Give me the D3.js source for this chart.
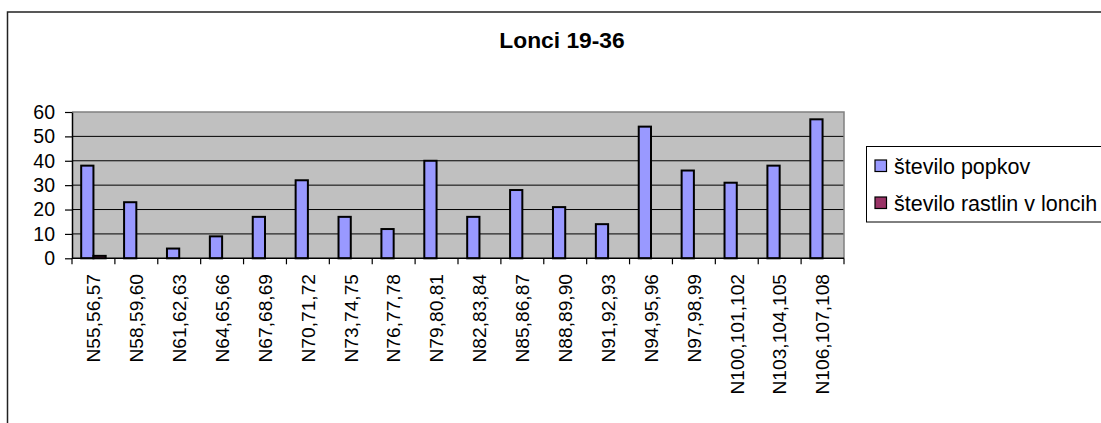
<!DOCTYPE html>
<html>
<head>
<meta charset="utf-8">
<script src="https://cdn.jsdelivr.net/npm/d3@7"></script>
<style>
  html, body { margin: 0; padding: 0; background: #fff; overflow: hidden; }
  svg { display: block; font-family: "Liberation Sans", Arial, sans-serif; }
</style>
</head>
<body>
<svg id="chart" width="1101" height="423"></svg>
<script>
// Pots 19-36: bud counts and plant counts per group of three plants
const categories = [
  "N55,56,57", "N58,59,60", "N61,62,63", "N64,65,66", "N67,68,69", "N70,71,72",
  "N73,74,75", "N76,77,78", "N79,80,81", "N82,83,84", "N85,86,87", "N88,89,90",
  "N91,92,93", "N94,95,96", "N97,98,99", "N100,101,102", "N103,104,105", "N106,107,108"
];
const seriesNames = ["število popkov", "število rastlin v loncih"];
const budCounts = [38, 23, 4, 9, 17, 32, 17, 12, 40, 17, 28, 21, 14, 54, 36, 31, 38, 57];
const plantCounts = [1, null, null, null, null, null, null, null, null, null, null, null, null, null, null, null, null, null];
const yTicks = [0, 10, 20, 30, 40, 50, 60];
const seriesColors = ["#9999FF", "#993366"];
const title = "Lonci 19-36";

const svg = d3.select("#chart");
const plot = { left: 72, right: 844, top: 112, bottom: 258.3 };

// outer chart frame
svg.append("rect")
  .attr("x", 7.5).attr("y", 12).attr("width", 1120).attr("height", 430)
  .attr("fill", "#fff").attr("stroke", "#222").attr("stroke-width", 1.5);

// title
svg.append("text")
  .attr("x", 562).attr("y", 47.5)
  .attr("text-anchor", "middle")
  .attr("font-weight", "bold")
  .attr("font-size", 22.8)
  .attr("fill", "#000")
  .text(title);

// plot background
svg.append("rect")
  .attr("x", plot.left).attr("y", plot.top)
  .attr("width", plot.right - plot.left).attr("height", plot.bottom - plot.top)
  .attr("fill", "#C0C0C0");

const x0 = d3.scaleBand().domain(categories).range([plot.left, plot.right]).padding(0);
const gap = x0.bandwidth() * 1.5 / 3.5;
const x1 = d3.scaleBand().domain(seriesNames).range([gap / 2, x0.bandwidth() - gap / 2]).padding(0);
const y = d3.scaleLinear().domain([0, 60]).range([plot.bottom, plot.top]);

// horizontal gridlines
svg.append("g")
  .selectAll("line")
  .data(yTicks.filter(t => t > 0 && t < 60))
  .join("line")
  .attr("x1", plot.left).attr("x2", plot.right)
  .attr("y1", d => y(d)).attr("y2", d => y(d))
  .attr("stroke", "#000").attr("stroke-width", 1);

// plot border (top/right in gray)
svg.append("path")
  .attr("d", `M${plot.left},${plot.top}H${plot.right}V${plot.bottom}`)
  .attr("fill", "none").attr("stroke", "#808080").attr("stroke-width", 1.5);

// bars
const seriesData = [budCounts, plantCounts];
const groups = svg.append("g");
seriesData.forEach((vals, si) => {
  groups.append("g")
    .selectAll("rect")
    .data(vals.map((v, i) => ({ cat: categories[i], v })).filter(d => d.v != null))
    .join("rect")
    .attr("x", d => x0(d.cat) + x1(seriesNames[si]))
    .attr("y", d => y(d.v))
    .attr("width", x1.bandwidth())
    .attr("height", d => y(0) - y(d.v))
    .attr("fill", seriesColors[si])
    .attr("stroke", "#000")
    .attr("stroke-width", 2);
});

// y axis
const yAxis = svg.append("g")
  .attr("transform", `translate(${plot.left},0)`)
  .call(d3.axisLeft(y).tickValues(yTicks).tickSize(7).tickPadding(10).tickSizeOuter(0));
yAxis.select(".domain").attr("stroke", "#000").attr("stroke-width", 1.5);
yAxis.selectAll(".tick line").attr("stroke", "#000").attr("stroke-width", 1.2);
yAxis.selectAll(".tick text")
  .attr("font-size", 19.5).attr("fill", "#000")
  .attr("font-family", "Liberation Sans, Arial, sans-serif");

// x axis: ticks at category boundaries, rotated labels at centres
const xAxisG = svg.append("g");
xAxisG.append("line")
  .attr("x1", plot.left).attr("x2", plot.right)
  .attr("y1", plot.bottom).attr("y2", plot.bottom)
  .attr("stroke", "#000").attr("stroke-width", 1.5);
const boundaries = categories.map(c => x0(c)).concat([plot.right]);
xAxisG.selectAll("line.tick")
  .data(boundaries)
  .join("line")
  .attr("class", "tick")
  .attr("x1", d => d).attr("x2", d => d)
  .attr("y1", plot.bottom).attr("y2", plot.bottom + 6)
  .attr("stroke", "#000").attr("stroke-width", 1.2);
xAxisG.selectAll("text")
  .data(categories)
  .join("text")
  .attr("transform", d => `translate(${x0(d) + x0.bandwidth() / 2},${274}) rotate(-90)`)
  .attr("text-anchor", "end")
  .attr("dy", "0.35em")
  .attr("font-size", 19.2)
  .attr("fill", "#000")
  .text(d => d);

// legend
const legend = svg.append("g");
legend.append("rect")
  .attr("x", 866.5).attr("y", 146.5).attr("width", 260).attr("height", 75.5)
  .attr("fill", "#fff").attr("stroke", "#000").attr("stroke-width", 1);
const legendRows = [166, 203];
seriesNames.forEach((name, i) => {
  legend.append("rect")
    .attr("x", 875).attr("y", legendRows[i] - 6)
    .attr("width", 11.5).attr("height", 11.5)
    .attr("fill", seriesColors[i]).attr("stroke", "#000").attr("stroke-width", 1.2);
  legend.append("text")
    .attr("x", 894).attr("y", legendRows[i])
    .attr("dy", "0.35em")
    .attr("font-size", 21.5)
    .attr("fill", "#000")
    .text(name);
});
</script>
</body>
</html>
